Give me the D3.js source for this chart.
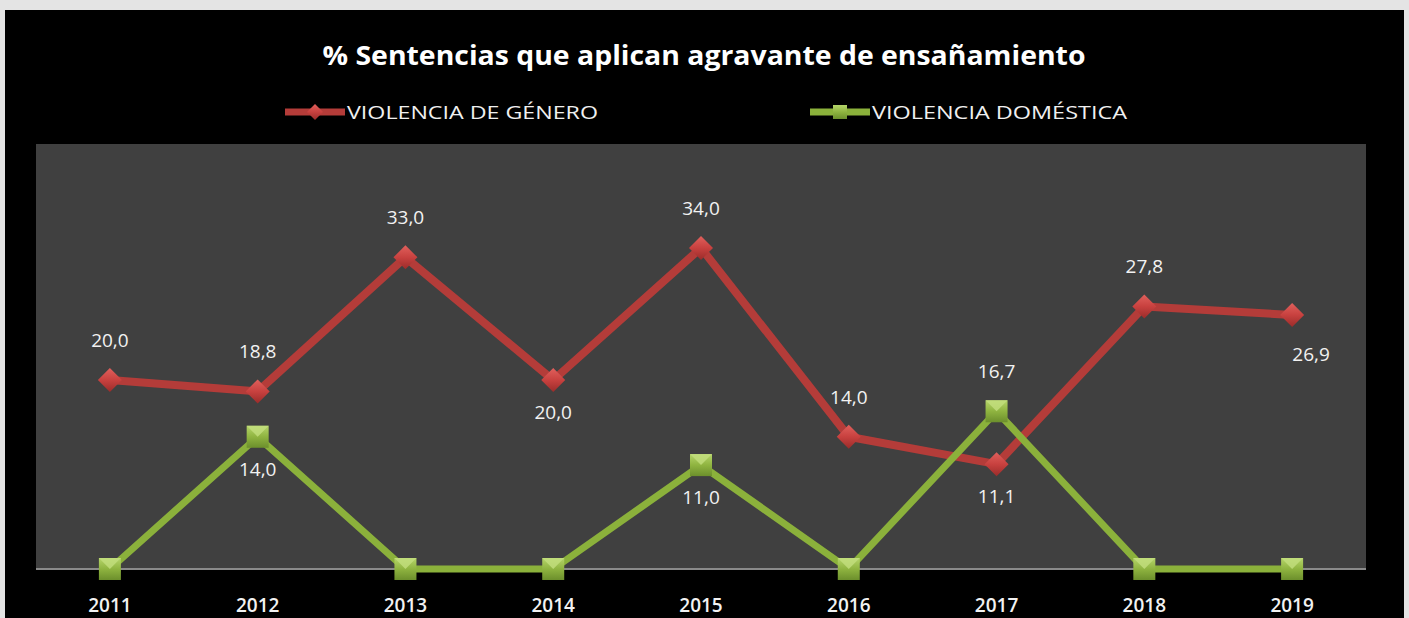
<!DOCTYPE html>
<html>
<head>
<meta charset="utf-8">
<script src="https://cdn.jsdelivr.net/npm/d3@7"></script>
<style>
  html, body { margin: 0; padding: 0; background: #e4e4e4; }
  svg { display: block; }
</style>
</head>
<body>
<svg id="chart" width="1409" height="618"></svg>
<script>
// Years on the category axis
const years = ["2011", "2012", "2013", "2014", "2015", "2016", "2017", "2018", "2019"];
// % of sentences applying the aggravating factor
const genero = [20.0, 18.8, 33.0, 20.0, 34.0, 14.0, 11.1, 27.8, 26.9];
const domestica = [0, 14.0, 0, 0, 11.0, 0, 16.7, 0, 0];
const seriesNames = ["VIOLENCIA DE GÉNERO", "VIOLENCIA DOMÉSTICA"];
// Where each data label sits relative to its point
const generoLabelPos = ["above", "above", "above", "below", "above", "above", "below", "above", "belowRight"];
const domesticaLabelPos = ["none", "below", "none", "none", "below", "none", "above", "none", "none"];

const svg = d3.select("#chart");
const W = 1409, H = 618;

// Black chart panel
svg.append("rect").attr("x", 5).attr("y", 10).attr("width", 1399).attr("height", H - 10).attr("fill", "#000");

const plot = { left: 36, right: 1366, top: 144, bottom: 569 };

svg.append("rect")
  .attr("x", plot.left).attr("y", plot.top)
  .attr("width", plot.right - plot.left).attr("height", plot.bottom - plot.top)
  .attr("fill", "#404040");

const x = d3.scaleBand().domain(years).range([plot.left, plot.right]);
const y = d3.scaleLinear().domain([0, 45]).range([plot.bottom, plot.top]);
const cx = d => x(d) + x.bandwidth() / 2;

const font = "'Open Sans', 'DejaVu Sans', sans-serif";

// Title
svg.append("text")
  .attr("x", 704).attr("y", 65)
  .attr("text-anchor", "middle")
  .attr("font-family", font).attr("font-weight", "bold").attr("font-size", 26)
  .attr("fill", "#fff")
  .attr("textLength", 763).attr("lengthAdjust", "spacingAndGlyphs")
  .text("% Sentencias que aplican agravante de ensañamiento");

// Gradients for the bevelled lines and markers
const defs = svg.append("defs");
function lg(id, stops) {
  const g = defs.append("linearGradient").attr("id", id).attr("x1", 0).attr("y1", 0).attr("x2", 0).attr("y2", 1);
  stops.forEach(s => g.append("stop").attr("offset", s[0]).attr("stop-color", s[1]));
}
lg("redMark", [[0, "#e0605c"], [0.5, "#c8413f"], [1, "#9a2c2a"]]);
lg("greenMark", [[0, "#b5d46a"], [0.5, "#8fb440"], [1, "#6c8f2c"]]);

const redColor = "#b43c39";
const greenColor = "#8bb13b";

// Axis line
svg.append("line")
  .attr("x1", plot.left).attr("x2", plot.right)
  .attr("y1", plot.bottom).attr("y2", plot.bottom)
  .attr("stroke", "#8a8a8a").attr("stroke-width", 2);

// Category axis labels
const xAxis = d3.axisBottom(x).tickSize(0).tickPadding(0);
const gx = svg.append("g").attr("transform", `translate(0,${plot.bottom})`).call(xAxis);
gx.select(".domain").remove();
gx.selectAll("text")
  .attr("y", 43)
  .attr("dy", null)
  .attr("font-family", font).attr("font-size", 19).attr("font-weight", "600")
  .attr("fill", "#f2f2f2");

const line = d3.line().x((d, i) => cx(years[i])).y(d => y(d));

// Lines
svg.append("path").datum(genero).attr("d", line)
  .attr("fill", "none").attr("stroke", redColor).attr("stroke-width", 8)
  .attr("stroke-linejoin", "round");
svg.append("path").datum(domestica).attr("d", line)
  .attr("fill", "none").attr("stroke", greenColor).attr("stroke-width", 7)
  .attr("stroke-linejoin", "round");

// Markers
const diamond = (px, py, r) => `M${px},${py - r}L${px + r},${py}L${px},${py + r}L${px - r},${py}Z`;
svg.append("g").selectAll("path").data(genero).join("path")
  .attr("d", (d, i) => diamond(cx(years[i]), y(d), 12))
  .attr("fill", "url(#redMark)");

const sq = 11;
const gMarks = svg.append("g").selectAll("g").data(domestica).join("g")
  .attr("transform", (d, i) => `translate(${cx(years[i])},${y(d)})`);
gMarks.append("rect")
  .attr("x", -sq).attr("y", -sq).attr("width", 2 * sq).attr("height", 2 * sq)
  .attr("fill", "url(#greenMark)");
gMarks.append("path")
  .attr("d", `M${-sq},${-sq}L${sq},${-sq}L0,0Z`)
  .attr("fill", "#c3de7e").attr("opacity", 0.8);

// Data labels
const fmt = v => d3.format(".1f")(v).replace(".", ",");
function labels(values, pos) {
  values.forEach((v, i) => {
    const p = pos[i];
    if (p === "none") return;
    let dx = 0, dy = 0;
    if (p === "above") dy = -33;
    if (p === "below") dy = 39;
    if (p === "belowRight") { dx = 19; dy = 46; }
    svg.append("text")
      .attr("x", cx(years[i]) + dx).attr("y", y(v) + dy)
      .attr("text-anchor", "middle")
      .attr("font-family", font).attr("font-size", 19)
      .attr("fill", "#f2f2f2")
      .text(fmt(v));
  });
}
labels(genero, generoLabelPos);
labels(domestica, domesticaLabelPos);

// Legend
const legend = [
  { name: seriesNames[0], color: redColor, x0: 285, tx: 347, tw: 251, mark: "diamond" },
  { name: seriesNames[1], color: greenColor, x0: 810, tx: 872, tw: 255, mark: "square" }
];
legend.forEach(l => {
  const ly = 112;
  svg.append("line").attr("x1", l.x0).attr("x2", l.x0 + 60).attr("y1", ly).attr("y2", ly)
    .attr("stroke", l.color).attr("stroke-width", 7);
  if (l.mark === "diamond") {
    svg.append("path").attr("d", diamond(l.x0 + 30, ly, 8)).attr("fill", "url(#redMark)");
  } else {
    svg.append("rect").attr("x", l.x0 + 23).attr("y", ly - 7).attr("width", 14).attr("height", 14).attr("fill", "url(#greenMark)");
  }
  svg.append("text")
    .attr("x", l.tx).attr("y", ly + 7)
    .attr("font-family", font).attr("font-size", 18)
    .attr("fill", "#f0f0f0")
    .attr("textLength", l.tw).attr("lengthAdjust", "spacingAndGlyphs")
    .text(l.name);
});
</script>
</body>
</html>
